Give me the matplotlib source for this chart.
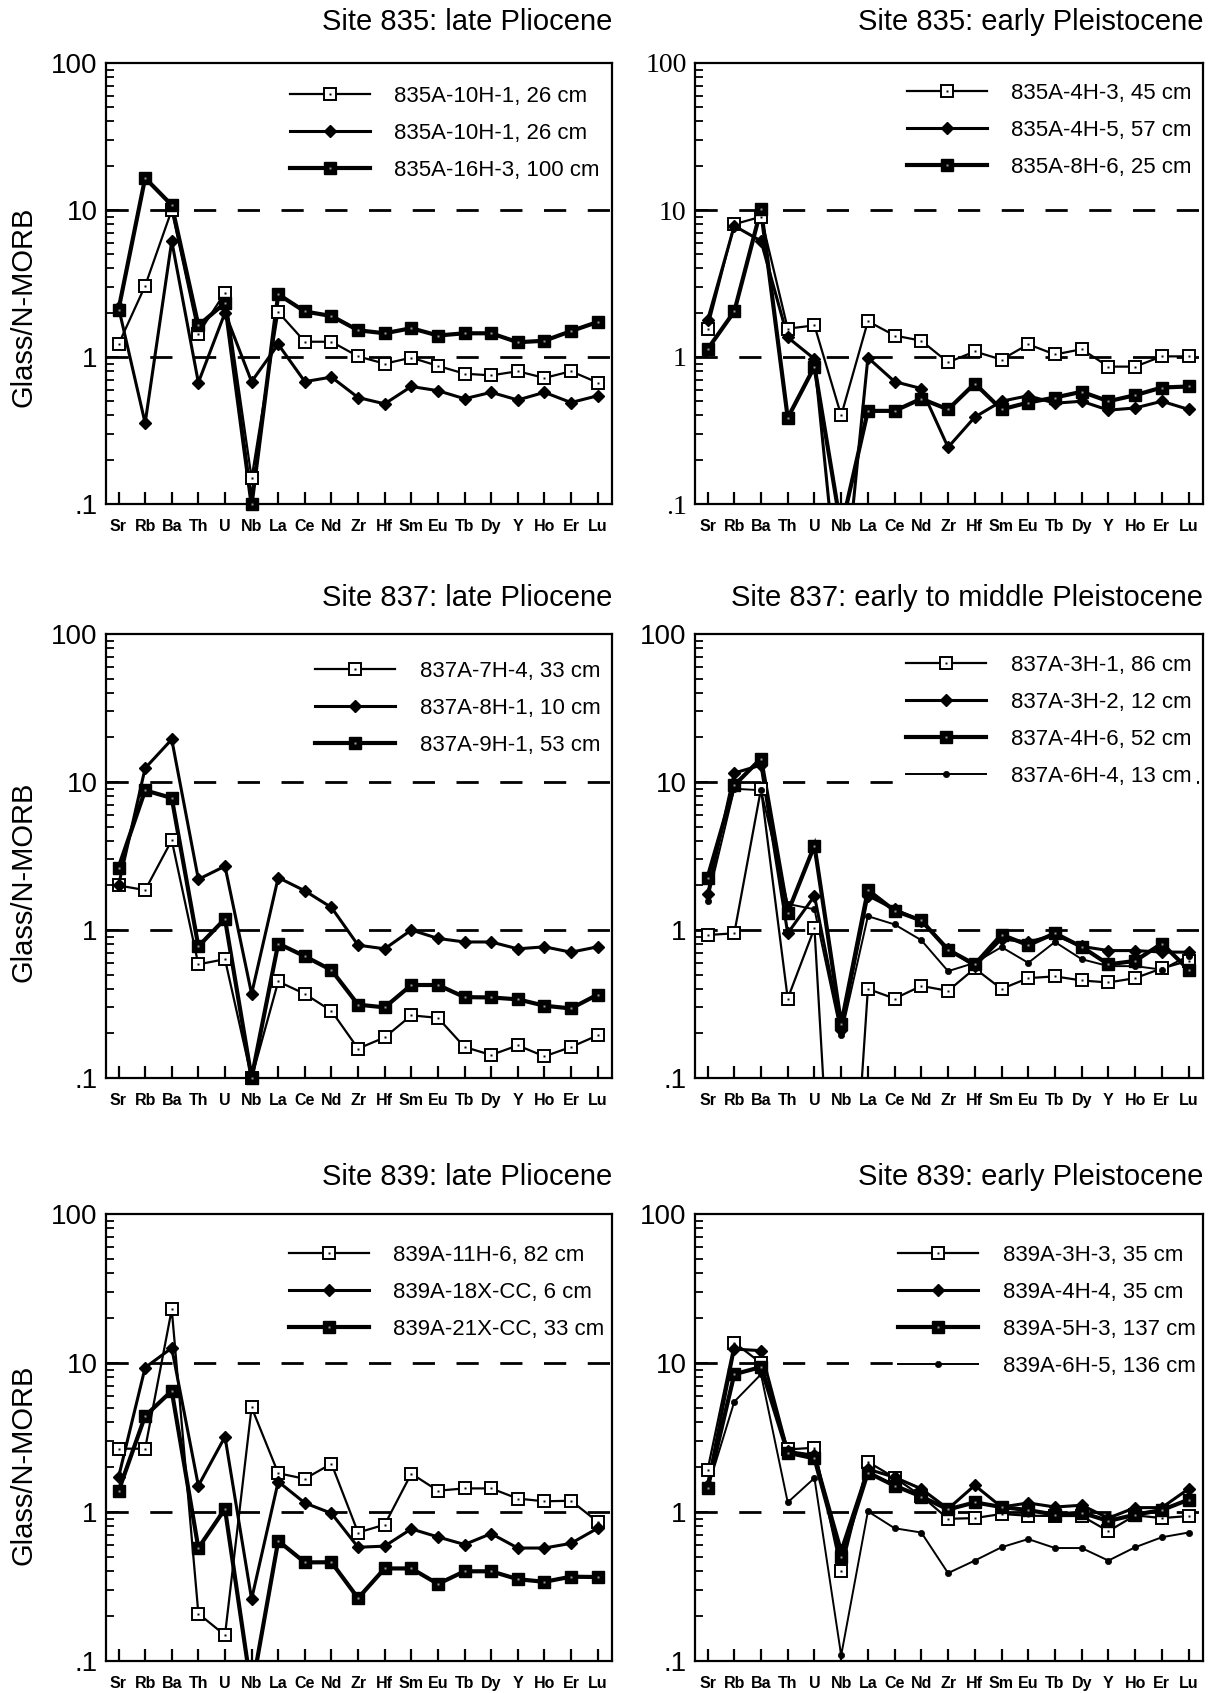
import numpy as np
import matplotlib
matplotlib.use("Agg")
import matplotlib.pyplot as plt
from matplotlib.lines import Line2D
from matplotlib.legend_handler import HandlerTuple
from matplotlib.ticker import FixedLocator, LogLocator, NullFormatter

plt.rcParams['font.family'] = ['Liberation Sans', 'DejaVu Sans']
plt.rcParams['lines.scale_dashes'] = False

elements = ["Sr", "Rb", "Ba", "Th", "U", "Nb", "La", "Ce", "Nd", "Zr", "Hf",
            "Sm", "Eu", "Tb", "Dy", "Y", "Ho", "Er", "Lu"]
ytick_values = [0.1, 1, 10, 100]
ytick_labels = [".1", "1", "10", "100"]

# ---- Site 835: late Pliocene
p1_titles = "Site 835: late Pliocene"
p1_labels = ["835A-10H-1, 26 cm", "835A-10H-1, 26 cm", "835A-16H-3, 100 cm"]
p1_a = [1.22, 3.05, 10.0, 1.44, 2.74, 0.15, 2.02, 1.27, 1.27, 1.01, 0.90, 0.99, 0.87, 0.77, 0.75, 0.80, 0.72, 0.80, 0.67]
p1_b = [2.18, 0.355, 6.15, 0.67, 2.0, 0.68, 1.22, 0.68, 0.73, 0.53, 0.48, 0.63, 0.59, 0.52, 0.575, 0.51, 0.575, 0.49, 0.545]
p1_c = [2.1, 16.5, 10.8, 1.64, 2.33, 0.1, 2.67, 2.04, 1.90, 1.52, 1.45, 1.57, 1.40, 1.45, 1.45, 1.26, 1.29, 1.50, 1.73]

# ---- Site 835: early Pleistocene
p2_titles = "Site 835: early Pleistocene"
p2_labels = ["835A-4H-3, 45 cm", "835A-4H-5, 57 cm", "835A-8H-6, 25 cm"]
p2_a = [1.56, 8.0, 9.0, 1.56, 1.64, 0.40, 1.75, 1.40, 1.29, 0.92, 1.09, 0.96, 1.22, 1.04, 1.13, 0.86, 0.86, 1.01, 1.01]
p2_b = [1.78, 7.8, 6.15, 1.36, 0.97, 0.015, 0.99, 0.68, 0.61, 0.243, 0.39, 0.50, 0.545, 0.485, 0.50, 0.435, 0.45, 0.50, 0.44]
p2_c = [1.13, 2.04, 10.1, 0.385, 0.86, 0.068, 0.43, 0.43, 0.52, 0.44, 0.66, 0.44, 0.49, 0.53, 0.58, 0.50, 0.55, 0.62, 0.63]

# ---- Site 837: late Pliocene
p3_titles = "Site 837: late Pliocene"
p3_labels = ["837A-7H-4, 33 cm", "837A-8H-1, 10 cm", "837A-9H-1, 53 cm"]
p3_a = [2.0, 1.86, 4.04, 0.586, 0.635, 0.1, 0.449, 0.37, 0.284, 0.158, 0.188, 0.265, 0.255, 0.162, 0.143, 0.166, 0.14, 0.162, 0.194]
p3_b = [2.0, 12.4, 19.4, 2.2, 2.7, 0.37, 2.26, 1.84, 1.42, 0.79, 0.746, 1.0, 0.877, 0.83, 0.83, 0.746, 0.77, 0.708, 0.77]
p3_c = [2.63, 8.78, 7.8, 0.775, 1.19, 0.1, 0.81, 0.664, 0.536, 0.313, 0.30, 0.425, 0.425, 0.352, 0.35, 0.34, 0.308, 0.295, 0.366]

# ---- Site 837: early to middle Pleistocene
p4_titles = "Site 837: early to middle Pleistocene"
p4_labels = ["837A-3H-1, 86 cm", "837A-3H-2, 12 cm", "837A-4H-6, 52 cm", "837A-6H-4, 13 cm"]
p4_a = [0.925, 0.95, 9.0, 0.344, 1.03, 0.0008, 0.40, 0.344, 0.419, 0.388, 0.55, 0.40, 0.473, 0.486, 0.456, 0.442, 0.473, 0.55, 0.62]
p4_b = [1.74, 11.5, 13.0, 0.95, 1.7, 0.212, 1.71, 1.38, 1.15, 0.746, 0.57, 0.87, 0.83, 0.925, 0.775, 0.726, 0.726, 0.71, 0.708]
p4_c = [2.26, 9.5, 14.4, 1.31, 3.72, 0.23, 1.86, 1.35, 1.16, 0.735, 0.586, 0.93, 0.79, 0.95, 0.77, 0.586, 0.618, 0.81, 0.54]
p4_d = [1.58, 9.0, 8.8, 1.5, 1.38, 0.195, 1.24, 1.09, 0.853, 0.527, 0.60, 0.767, 0.60, 0.83, 0.635, 0.57, 0.57, 0.54, 0.67]

# ---- Site 839: late Pliocene
p5_titles = "Site 839: late Pliocene"
p5_labels = ["839A-11H-6, 82 cm", "839A-18X-CC, 6 cm", "839A-21X-CC, 33 cm"]
p5_a = [2.66, 2.66, 22.9, 0.208, 0.149, 5.04, 1.82, 1.67, 2.11, 0.728, 0.822, 1.81, 1.39, 1.44, 1.44, 1.23, 1.18, 1.19, 0.86]
p5_b = [1.71, 9.32, 12.6, 1.5, 3.2, 0.26, 1.6, 1.15, 0.98, 0.58, 0.59, 0.77, 0.68, 0.605, 0.716, 0.573, 0.573, 0.616, 0.778]
p5_c = [1.38, 4.41, 6.5, 0.573, 1.05, 0.063, 0.64, 0.459, 0.46, 0.264, 0.418, 0.418, 0.329, 0.40, 0.40, 0.354, 0.34, 0.368, 0.366]

# ---- Site 839: early Pleistocene
p6_titles = "Site 839: early Pleistocene"
p6_labels = ["839A-3H-3, 35 cm", "839A-4H-4, 35 cm", "839A-5H-3, 137 cm", "839A-6H-5, 136 cm"]
p6_a = [1.91, 13.7, 10.0, 2.63, 2.7, 0.40, 2.17, 1.7, 1.28, 0.90, 0.91, 0.97, 0.944, 0.94, 0.94, 0.743, 0.95, 0.91, 0.94]
p6_b = [1.51, 12.4, 12.1, 2.55, 2.4, 0.557, 1.94, 1.71, 1.43, 1.05, 1.51, 1.08, 1.15, 1.08, 1.11, 0.91, 1.07, 1.07, 1.43]
p6_c = [1.45, 8.4, 9.4, 2.5, 2.29, 0.5, 1.84, 1.5, 1.27, 1.04, 1.16, 1.08, 1.03, 0.96, 0.99, 0.87, 0.96, 1.03, 1.21]
p6_d = [1.43, 5.5, 8.4, 1.16, 1.69, 0.109, 1.01, 0.778, 0.728, 0.389, 0.472, 0.58, 0.658, 0.573, 0.573, 0.472, 0.58, 0.677, 0.728]

# ------------------------------------------------------------------
W, H = 1214, 1693
fig = plt.figure(figsize=(W / 100, H / 100), dpi=100)

STYLES = {
    "open":    dict(lw=1.6, marker="s", ms=8.0, mfc="white", mec="black", mew=1.4),
    "diamond": dict(lw=2.2, marker="D", ms=6.5, mfc="black", mec="black", mew=1.0),
    "filled":  dict(lw=3.0, marker="s", ms=8.5, mfc="black", mec="black", mew=1.0),
    "dot":     dict(lw=1.4, marker="o", ms=4.5, mfc="black", mec="black", mew=0.5),
}
CENTER = {"open": "black", "filled": "#9a9a9a"}
ORDER = ["open", "diamond", "filled", "dot"]

panels = [
    dict(title=p1_titles, labels=p1_labels, series=[p1_a, p1_b, p1_c], box=(106, 63, 612, 504),
         title_y=22, ylab_y=307, leg=(605, 80), serif=False, ylabel=True),
    dict(title=p2_titles, labels=p2_labels, series=[p2_a, p2_b, p2_c], box=(695, 63, 1203, 504),
         title_y=22, ylab_y=None, leg=(1197, 77), serif=True, ylabel=False),
    dict(title=p3_titles, labels=p3_labels, series=[p3_a, p3_b, p3_c], box=(106, 634, 612, 1078),
         title_y=598, ylab_y=882, leg=(606, 655), serif=False, ylabel=True),
    dict(title=p4_titles, labels=p4_labels, series=[p4_a, p4_b, p4_c, p4_d], box=(695, 634, 1203, 1078),
         title_y=598, ylab_y=None, leg=(1197, 649), serif=False, ylabel=False),
    dict(title=p5_titles, labels=p5_labels, series=[p5_a, p5_b, p5_c], box=(106, 1214, 612, 1661),
         title_y=1177, ylab_y=1465, leg=(610, 1239), serif=False, ylabel=True),
    dict(title=p6_titles, labels=p6_labels, series=[p6_a, p6_b, p6_c, p6_d], box=(695, 1214, 1203, 1661),
         title_y=1177, ylab_y=None, leg=(1201, 1239), serif=False, ylabel=False),
]

x = np.arange(len(elements))

for p in panels:
    l, t, r, b = p["box"]
    ax = fig.add_axes([l / W, 1 - b / H, (r - l) / W, (b - t) / H])
    ax.set_yscale("log")
    ax.set_ylim(0.1, 100)
    ax.set_xlim(-0.47, len(elements) - 1 + 0.54)

    for yv in (1, 10):
        ax.axhline(yv, color="black", lw=2.0, ls=(0, (16, 15.5)), zorder=1)

    handles = []
    for kind, vals in zip(ORDER, p["series"]):
        st = STYLES[kind]
        v = np.asarray(vals, dtype=float)
        ax.plot(x, v, color="black", lw=st["lw"], ls="-", zorder=3, solid_joinstyle="miter")
        vm = np.ma.masked_less(v, 0.099)
        ax.plot(x, vm, ls="none", marker=st["marker"], ms=st["ms"], mfc=st["mfc"],
                mec=st["mec"], mew=st["mew"], zorder=4, clip_on=False)
        h_line = Line2D([], [], color="black", lw=st["lw"], marker=st["marker"], ms=st["ms"],
                        mfc=st["mfc"], mec=st["mec"], mew=st["mew"])
        if kind in CENTER:
            ax.plot(x, vm, ls="none", marker="s", ms=2.0, mfc=CENTER[kind], mec="none",
                    zorder=5, clip_on=False)
            h_c = Line2D([], [], ls="none", marker="s", ms=2.0, mfc=CENTER[kind], mec="none")
            handles.append((h_line, h_c))
        else:
            handles.append(h_line)

    leg = ax.legend(handles, p["labels"], handler_map={tuple: HandlerTuple(ndivide=1, pad=0)},
                    loc="upper right",
                    bbox_to_anchor=(p["leg"][0] / W, 1 - p["leg"][1] / H),
                    bbox_transform=fig.transFigure, fontsize=16, frameon=True,
                    facecolor="white", edgecolor="none", framealpha=1.0, fancybox=False,
                    borderpad=0.25, borderaxespad=0, handlelength=3.6, handletextpad=1.1,
                    labelspacing=0.73, numpoints=1)
    leg.set_zorder(2)

    # ticks
    ax.set_xticks(x)
    ax.set_xticklabels(elements, fontsize=11.5, fontweight="bold")
    ax.yaxis.set_major_locator(FixedLocator(ytick_values))
    if p["serif"]:
        ax.set_yticklabels(ytick_labels, fontsize=20, fontfamily=["Liberation Serif", "DejaVu Serif"])
    else:
        ax.set_yticklabels(ytick_labels, fontsize=20)
    ax.yaxis.set_minor_locator(LogLocator(base=10, subs=np.arange(2, 10)))
    ax.yaxis.set_minor_formatter(NullFormatter())
    ax.tick_params(axis="x", which="both", direction="in", length=9, width=1.6, pad=11,
                   top=False, bottom=True)
    ax.tick_params(axis="y", which="major", direction="in", length=9, width=1.4, pad=6,
                   right=False, left=True)
    ax.tick_params(axis="y", which="minor", direction="in", length=6, width=1.3,
                   right=False, left=True)
    for sp in ax.spines.values():
        sp.set_linewidth(1.6)

    fig.text(r / W, 1 - p["title_y"] / H, p["title"], ha="right", va="center", fontsize=21)
    if p["ylabel"]:
        fig.text(24 / W, 1 - p["ylab_y"] / H, "Glass/N-MORB", rotation=90,
                 ha="center", va="center", fontsize=21)

fig.savefig("out.png", dpi=100)
